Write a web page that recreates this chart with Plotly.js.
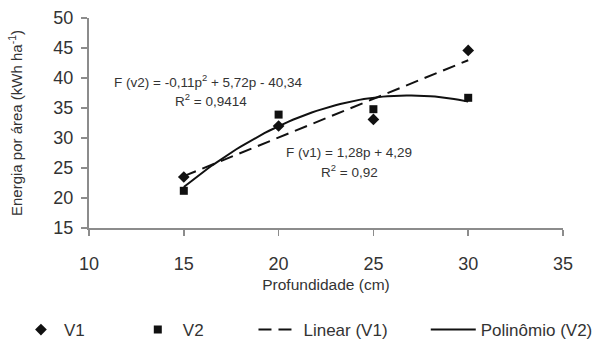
<!DOCTYPE html>
<html>
<head>
<meta charset="utf-8">
<script src="https://cdn.plot.ly/plotly-3.0.1.min.js"></script>
<style>
  html, body { margin: 0; padding: 0; background: #fff; width: 598px; height: 341px; overflow: hidden; }
  #chart { width: 610px; height: 360px; }
</style>
</head>
<body>
<div id="chart"></div>
<script>
// Depth of tillage (cm) and energy per area (kWh/ha) for two treatments
const depth = [15, 20, 25, 30];
const v1 = [23.5, 32.0, 33.1, 44.6];
const v2 = [21.2, 33.9, 34.8, 36.7];

const xTicks = [10, 15, 20, 25, 30, 35];
const yTicks = [15, 20, 25, 30, 35, 40, 45, 50];

// Least-squares polynomial fit of a given degree (normal equations)
function polyFit(xs, ys, degree) {
  const n = degree + 1;
  const A = [];
  for (let r = 0; r < n; r++) {
    A.push(new Array(n + 1).fill(0));
    for (let c = 0; c < n; c++) {
      A[r][c] = xs.reduce((s, x) => s + Math.pow(x, r + c), 0);
    }
    A[r][n] = xs.reduce((s, x, i) => s + ys[i] * Math.pow(x, r), 0);
  }
  for (let i = 0; i < n; i++) {
    let p = i;
    for (let k = i + 1; k < n; k++) if (Math.abs(A[k][i]) > Math.abs(A[p][i])) p = k;
    [A[i], A[p]] = [A[p], A[i]];
    for (let k = i + 1; k < n; k++) {
      const f = A[k][i] / A[i][i];
      for (let c = i; c <= n; c++) A[k][c] -= f * A[i][c];
    }
  }
  const coef = new Array(n).fill(0);
  for (let i = n - 1; i >= 0; i--) {
    let s = A[i][n];
    for (let c = i + 1; c < n; c++) s -= A[i][c] * coef[c];
    coef[i] = s / A[i][i];
  }
  return coef;
}
const evalPoly = (coef, x) => coef.reduce((s, a, i) => s + a * Math.pow(x, i), 0);

// Trend lines evaluated across the sampled depth span
const linCoef = polyFit(depth, v1, 1);
const quadCoef = polyFit(depth, v2, 2);
const pMin = Math.min(...depth), pMax = Math.max(...depth);
const curveX = [];
for (let i = 0; i <= 60; i++) curveX.push(pMin + (pMax - pMin) * i / 60);
const linY = curveX.map(x => evalPoly(linCoef, x));
const quadY = curveX.map(x => evalPoly(quadCoef, x));

const FONT = 'Liberation Sans, Arial, sans-serif';
const TXT = '#333333';
const AXIS = '#8c8c8c';

const traces = [
  { x: curveX, y: linY, mode: 'lines', name: 'Linear (V1)', legend: 'legend3',
    line: { color: '#111', width: 2, dash: '13px,7px' }, hoverinfo: 'skip' },
  { x: curveX, y: quadY, mode: 'lines', name: 'Polinômio (V2)', legend: 'legend4',
    line: { color: '#111', width: 2 }, hoverinfo: 'skip' },
  { x: depth, y: v1, mode: 'markers', name: 'V1', legend: 'legend',
    marker: { symbol: 'diamond', size: 9, color: '#111' } },
  { x: depth, y: v2, mode: 'markers', name: 'V2', legend: 'legend2',
    marker: { symbol: 'square', size: 8, color: '#111' } }
];

const legendBase = {
  orientation: 'h', yanchor: 'top', xanchor: 'left', y: -0.400,
  bgcolor: 'rgba(0,0,0,0)', borderwidth: 0,
  font: { family: FONT, size: 17, color: TXT }
};

const axisBase = {
  showline: true, linecolor: AXIS, linewidth: 2,
  ticks: 'outside', ticklen: 6, tickwidth: 1.5, tickcolor: AXIS,
  showgrid: false, zeroline: false, automargin: false,
  tickfont: { family: FONT, size: 18, color: TXT }
};

const layout = {
  width: 610, height: 360,
  margin: { l: 89, r: 34, t: 18, b: 127 },
  paper_bgcolor: '#fff', plot_bgcolor: '#fff',
  font: { family: FONT, color: TXT },
  showlegend: true,
  xaxis: Object.assign({}, axisBase, {
    range: [10, 35], tickvals: xTicks, ticktext: xTicks.map(String),
    ticklabelstandoff: 12,
    title: { text: 'Profundidade (cm)', font: { family: FONT, size: 15.5, color: TXT }, standoff: 7 }
  }),
  yaxis: Object.assign({}, axisBase, {
    range: [15, 50], tickvals: yTicks, ticktext: yTicks.map(String),
    ticklabelstandoff: 4,
    title: { text: 'Energia por área (kWh ha<sup>-1</sup>)', font: { family: FONT, size: 15, color: TXT }, standoff: 27 }
  }),
  legend: Object.assign({}, legendBase, { x: -0.1499, itemwidth: 36 }),
  legend2: Object.assign({}, legendBase, { x: 0.0924, itemwidth: 40 }),
  legend3: Object.assign({}, legendBase, { x: 0.347, itemwidth: 40 }),
  legend4: Object.assign({}, legendBase, { x: 0.7105, itemwidth: 45 }),
  annotations: [
    { x: 16.31, y: 39.5, text: 'F (v2) = -0,11p<sup>2</sup> + 5,72p - 40,34' },
    { x: 16.42, y: 36.3, text: 'R<sup>2</sup> = 0,9414' },
    { x: 23.7, y: 27.65, text: 'F (v1) = 1,28p + 4,29' },
    { x: 23.76, y: 24.5, text: 'R<sup>2</sup> = 0,92' }
  ].map(a => Object.assign({
    xref: 'x', yref: 'y', showarrow: false, xanchor: 'center', yanchor: 'middle',
    font: { family: FONT, size: 13.5, color: TXT }
  }, a))
};

Plotly.newPlot('chart', traces, layout, { displayModeBar: false, staticPlot: true });
</script>
</body>
</html>
